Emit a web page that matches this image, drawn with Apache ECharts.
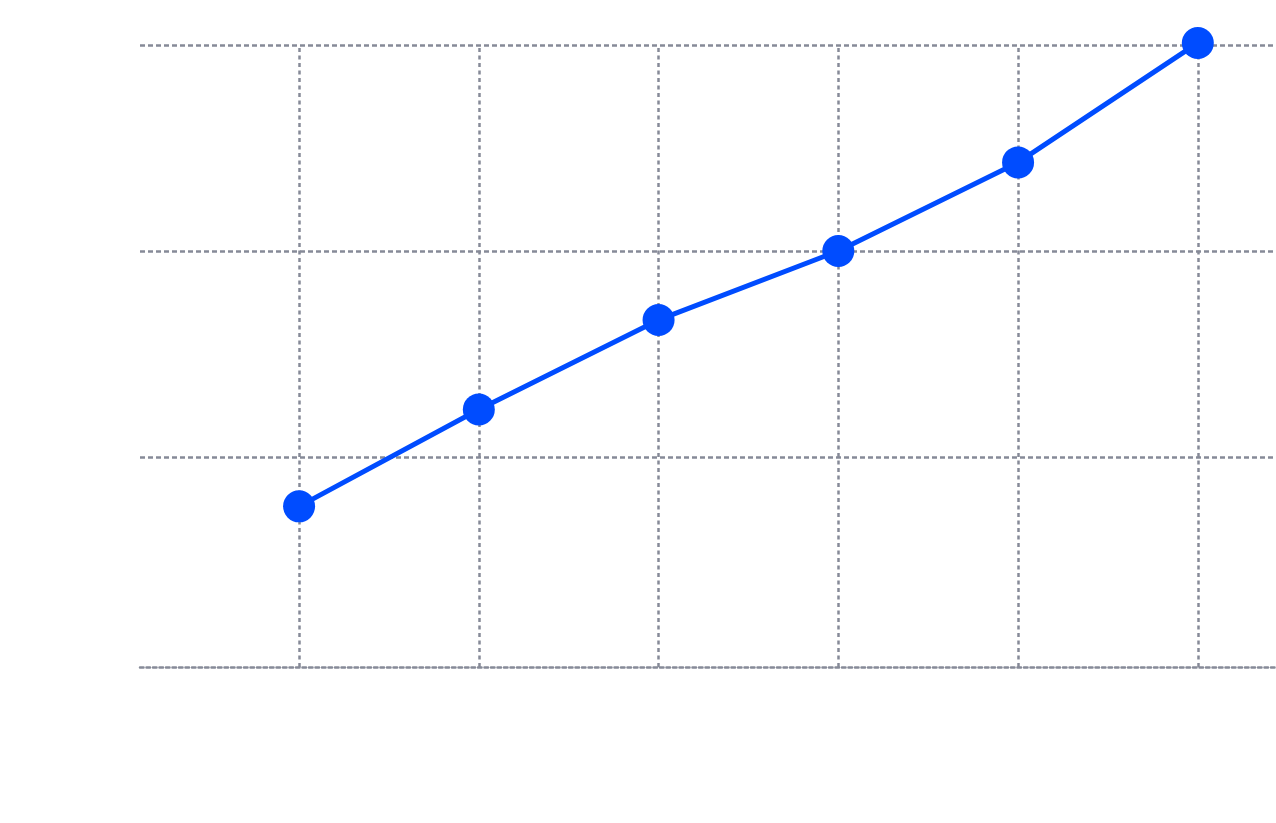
<!DOCTYPE html>
<html>
<head>
<meta charset="utf-8">
<style>html,body{margin:0;padding:0;background:#fff}#c{width:1276px;height:823px}</style>
<script src="https://cdn.jsdelivr.net/npm/echarts@6/dist/echarts.min.js"></script>
</head>
<body>
<div id="c"></div>
<script>
var xValues = [0, 1, 2, 3, 4, 5];
var yValues = [0.76, 1.23, 1.665, 2.0, 2.43, 3.01];
var yGridValues = [1, 2, 3];

var gridStyle = { color: '#868a98', width: 2.5, type: [5, 3], opacity: 1 };
var vStyle = { color: '#868a98', width: 2.5, type: [4, 3.5], opacity: 1 };
var baseStyle = { color: '#868a98', width: 2.5, type: [3.5, 3], opacity: 1 };

var chart = echarts.init(document.getElementById('c'));
var markData = [];
yGridValues.forEach(function (v) { markData.push({ yAxis: v, lineStyle: gridStyle }); });
xValues.forEach(function (v) { markData.push({ xAxis: v, lineStyle: vStyle }); });

chart.setOption({
  animation: false,
  grid: { left: 140, right: 0, top: 45, bottom: 156 },
  xAxis: {
    type: 'value', min: -0.885, max: 5.435,
    axisLine: { show: true, onZero: false, lineStyle: baseStyle },
    axisTick: { show: false }, axisLabel: { show: false }, splitLine: { show: false }
  },
  yAxis: {
    type: 'value', min: -0.02, max: 3,
    axisLine: { show: false }, axisTick: { show: false }, axisLabel: { show: false }, splitLine: { show: false }
  },
  series: [{
    type: 'line',
    clip: false,
    data: xValues.map(function (x, i) { return [x, yValues[i]]; }),
    symbol: 'circle', symbolSize: 32,
    lineStyle: { color: '#004cff', width: 5 },
    itemStyle: { color: '#004cff' },
    z: 5,
    markLine: {
      silent: true, symbol: 'none', label: { show: false },
      lineStyle: gridStyle,
      emphasis: { disabled: true },
      data: markData, z: 1
    }
  }]
});
</script>
</body>
</html>
